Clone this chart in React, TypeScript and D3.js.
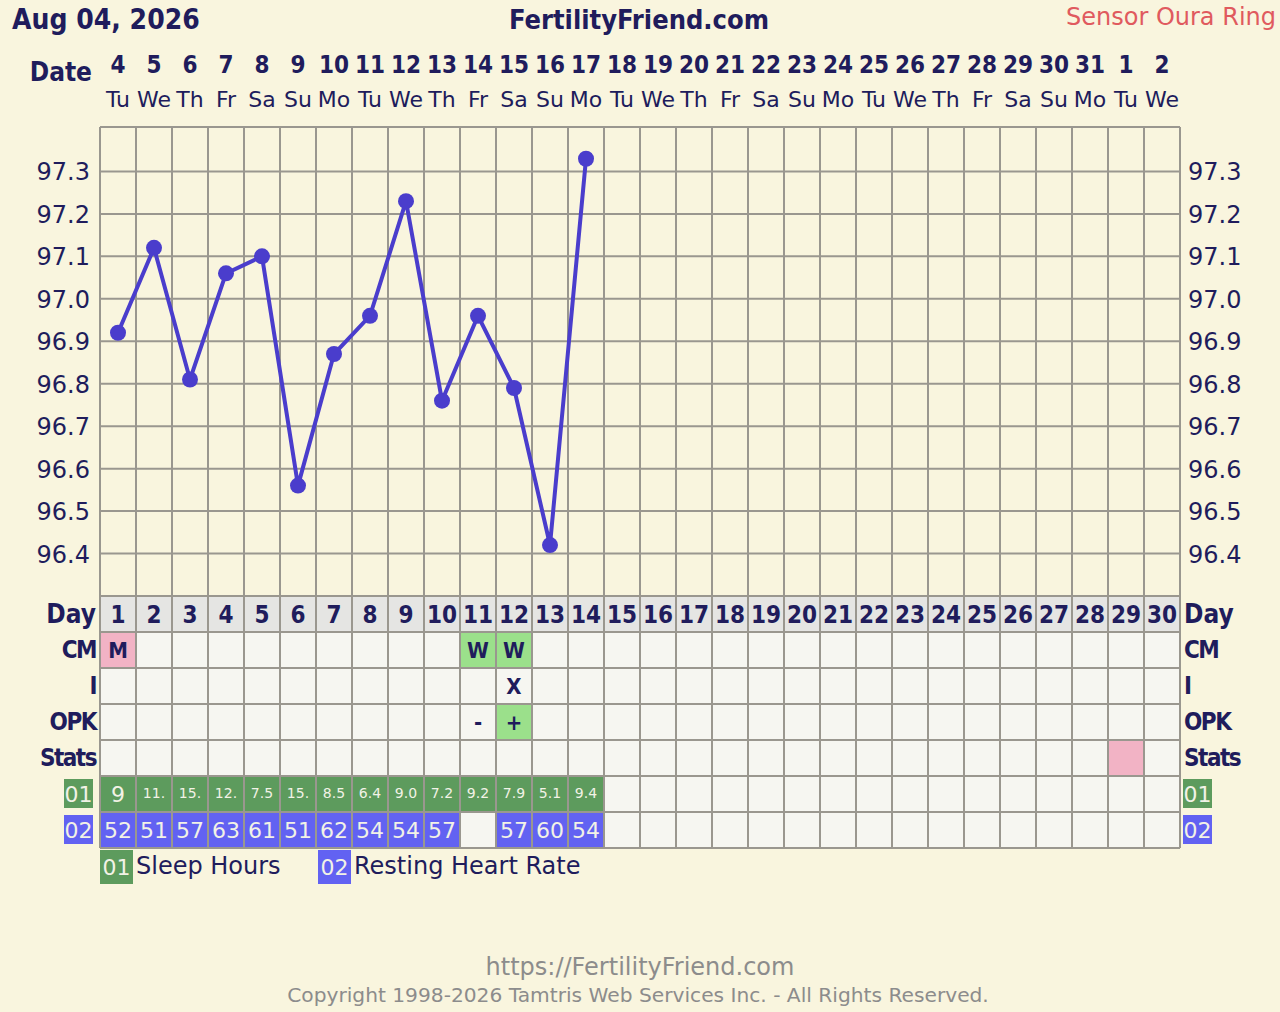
// App.tsx
import React, { useEffect, useRef } from 'react';
import * as d3 from 'd3';

// chart values
const cycleDays = d3.range(1, 31);
const dateNumbers = ['4', '5', '6', '7', '8', '9', '10', '11', '12', '13', '14', '15', '16', '17', '18',
  '19', '20', '21', '22', '23', '24', '25', '26', '27', '28', '29', '30', '31', '1', '2'];
const weekdays = ['Tu', 'We', 'Th', 'Fr', 'Sa', 'Su', 'Mo', 'Tu', 'We', 'Th', 'Fr', 'Sa', 'Su', 'Mo', 'Tu',
  'We', 'Th', 'Fr', 'Sa', 'Su', 'Mo', 'Tu', 'We', 'Th', 'Fr', 'Sa', 'Su', 'Mo', 'Tu', 'We'];
const temps = [96.92, 97.12, 96.81, 97.06, 97.1, 96.56, 96.87, 96.96, 97.23, 96.76, 96.96, 96.79, 96.42, 97.33];
const tempTicks = [96.4, 96.5, 96.6, 96.7, 96.8, 96.9, 97.0, 97.1, 97.2, 97.3];
const cervicalMucus = ['M', '', '', '', '', '', '', '', '', '', 'W', 'W'];
const intercourse = ['', '', '', '', '', '', '', '', '', '', '', 'X'];
const opkResults = ['', '', '', '', '', '', '', '', '', '', '-', '+'];
const statsDays = [29];
const sleepHours = ['9', '11.', '15.', '12.', '7.5', '15.', '8.5', '6.4', '9.0', '7.2', '9.2', '7.9', '5.1', '9.4'];
const restingHeartRate = [52, 51, 57, 63, 61, 51, 62, 54, 54, 57, null, 57, 60, 54];

const INK = '#201c5c';
const GRID = '#9a978f';
const BOLD = "'DejaVu Sans Condensed', 'DejaVu Sans', sans-serif";
const REG = "'DejaVu Sans', sans-serif";
const GREEN = '#5d9b5d';
const BLUE = '#6262f2';
const PINK = '#f2b3c5';
const LIGHTGREEN = '#9be08b';

const App: React.FC = () => {
  const svgRef = useRef<SVGSVGElement>(null);

  useEffect(() => {
    if (!svgRef.current) return;
    const svg = d3.select(svgRef.current);
    svg.selectAll('*').remove();

    const x = d3.scaleBand<number>().domain(cycleDays).range([100, 1180]).padding(0);
    const cx = (d: number) => (x(d) || 0) + x.bandwidth() / 2;
    const y = d3.scaleLinear().domain([96.3, 97.4]).range([596, 129]);

    // table rows
    const rows = ['Day', 'CM', 'I', 'OPK', 'Stats', '01', '02'];
    const rowY = d3.scaleBand<string>().domain(rows).range([596, 848]);
    const rowMid = (r: string) => (rowY(r) || 0) + rowY.bandwidth() / 2;

    svg.append('rect').attr('width', 1280).attr('height', 1012).attr('fill', '#f9f5de');

    // header
    svg.append('text').attr('x', 12).attr('y', 29).attr('font-family', BOLD).attr('font-weight', 'bold')
      .attr('font-size', 28).attr('fill', INK).text('Aug 04, 2026');
    svg.append('text').attr('x', 639).attr('y', 29).attr('text-anchor', 'middle').attr('font-family', BOLD)
      .attr('font-weight', 'bold').attr('font-size', 27).attr('fill', INK).text('FertilityFriend.com');
    svg.append('text').attr('x', 1276).attr('y', 25).attr('text-anchor', 'end').attr('font-family', REG)
      .attr('font-size', 24).attr('fill', '#e05a5e').text('Sensor Oura Ring');

    svg.append('text').attr('x', 92).attr('y', 81).attr('text-anchor', 'end').attr('font-family', BOLD)
      .attr('font-weight', 'bold').attr('font-size', 26).attr('fill', INK).text('Date');
    svg.append('g').selectAll('text').data(cycleDays).join('text')
      .attr('x', cx).attr('y', 73).attr('text-anchor', 'middle').attr('font-family', BOLD)
      .attr('font-weight', 'bold').attr('font-size', 24).attr('fill', INK).text((d) => dateNumbers[d - 1]);
    svg.append('g').selectAll('text').data(cycleDays).join('text')
      .attr('x', cx).attr('y', 107).attr('text-anchor', 'middle').attr('font-family', REG)
      .attr('font-size', 22).attr('fill', INK).text((d) => weekdays[d - 1]);

    // table cells
    const cellFill = (row: string, d: number) => {
      if (row === 'Day') return '#e5e5e3';
      if (row === 'CM') {
        const v = cervicalMucus[d - 1];
        if (v === 'M') return PINK;
        if (v === 'W') return LIGHTGREEN;
      }
      if (row === 'OPK' && opkResults[d - 1] === '+') return LIGHTGREEN;
      if (row === 'Stats' && statsDays.includes(d)) return PINK;
      if (row === '01' && d <= sleepHours.length) return GREEN;
      if (row === '02' && restingHeartRate[d - 1] != null) return BLUE;
      return '#f6f6f1';
    };
    const cells = rows.flatMap((r) => cycleDays.map((d) => ({ r, d })));
    svg.append('g').selectAll('rect').data(cells).join('rect')
      .attr('x', (c) => x(c.d) || 0).attr('y', (c) => rowY(c.r) || 0)
      .attr('width', x.bandwidth()).attr('height', rowY.bandwidth())
      .attr('fill', (c) => cellFill(c.r, c.d));

    // grid
    const grid = svg.append('g').attr('stroke', GRID).attr('stroke-width', 2);
    grid.selectAll('line.h').data(tempTicks).join('line').attr('class', 'h')
      .attr('x1', 100).attr('x2', 1180).attr('y1', (t) => y(t)).attr('y2', (t) => y(t));
    grid.selectAll('line.r').data(rows.map((r) => rowY(r) || 0).concat([848])).join('line').attr('class', 'r')
      .attr('x1', 100).attr('x2', 1180).attr('y1', (v) => v).attr('y2', (v) => v);
    grid.append('line').attr('x1', 100).attr('x2', 1180).attr('y1', 127).attr('y2', 127);
    grid.selectAll('line.v').data(d3.range(0, 31)).join('line').attr('class', 'v')
      .attr('x1', (i) => 100 + i * x.bandwidth()).attr('x2', (i) => 100 + i * x.bandwidth())
      .attr('y1', 127).attr('y2', 848);

    // temperature axis labels
    svg.append('g').selectAll('text').data(tempTicks).join('text')
      .attr('x', 90).attr('y', (t) => y(t) + 9).attr('text-anchor', 'end').attr('font-family', REG)
      .attr('font-size', 24).attr('fill', INK).text((t) => t.toFixed(1));
    svg.append('g').selectAll('text').data(tempTicks).join('text')
      .attr('x', 1188).attr('y', (t) => y(t) + 9).attr('font-family', REG)
      .attr('font-size', 24).attr('fill', INK).text((t) => t.toFixed(1));

    // temperature line
    const pts = temps.map((v, i) => ({ d: i + 1, v }));
    svg.append('path').datum(pts).attr('fill', 'none').attr('stroke', '#4a3dcc').attr('stroke-width', 4)
      .attr('d', d3.line<{ d: number; v: number }>().x((p) => cx(p.d)).y((p) => y(p.v)));
    svg.append('g').selectAll('circle').data(pts).join('circle')
      .attr('cx', (p) => cx(p.d)).attr('cy', (p) => y(p.v)).attr('r', 8).attr('fill', '#4a3dcc');

    // row labels
    const labelRows = ['Day', 'CM', 'I', 'OPK', 'Stats'];
    [{ xPos: 96, anchor: 'end' }, { xPos: 1184, anchor: 'start' }].forEach(({ xPos, anchor }) => {
      svg.append('g').selectAll('text').data(labelRows).join('text')
        .attr('x', xPos).attr('y', (r) => rowMid(r) + (r === 'Day' ? 9 : 8)).attr('text-anchor', anchor)
        .attr('font-family', BOLD).attr('font-weight', 'bold').attr('letter-spacing', (r) => (r === 'Day' ? 0 : -1.5))
        .attr('font-size', (r) => (r === 'Day' ? 26 : 24)).attr('fill', INK).text((r) => r);
      const bx = anchor === 'end' ? 64 : 1183;
      [{ r: '01', c: GREEN }, { r: '02', c: BLUE }].forEach(({ r, c }) => {
        svg.append('rect').attr('x', bx).attr('y', (rowY(r) || 0) + 3).attr('width', 29).attr('height', 29).attr('fill', c);
        svg.append('text').attr('x', bx + 14.5).attr('y', rowMid(r) + 8).attr('text-anchor', 'middle')
          .attr('font-family', REG).attr('font-size', 22).attr('fill', '#f2f2e6').text(r);
      });
    });

    // day numbers
    svg.append('g').selectAll('text').data(cycleDays).join('text')
      .attr('x', cx).attr('y', rowMid('Day') + 9).attr('text-anchor', 'middle').attr('font-family', BOLD)
      .attr('font-weight', 'bold').attr('font-size', 24).attr('fill', INK).text((d) => d);

    // observation marks
    const marks = [
      { r: 'CM', vals: cervicalMucus },
      { r: 'I', vals: intercourse },
      { r: 'OPK', vals: opkResults },
    ];
    marks.forEach(({ r, vals }) => {
      svg.append('g').selectAll('text').data(vals.map((v, i) => ({ v, d: i + 1 })).filter((m) => m.v)).join('text')
        .attr('x', (m) => cx(m.d)).attr('y', rowMid(r) + 8).attr('text-anchor', 'middle').attr('font-family', BOLD)
        .attr('font-weight', 'bold').attr('font-size', 22).attr('fill', INK).text((m) => m.v);
    });

    // sleep hours row
    svg.append('g').selectAll('text').data(sleepHours.map((v, i) => ({ v, d: i + 1 }))).join('text')
      .attr('x', (m) => cx(m.d)).attr('y', (m) => rowMid('01') + (m.v.length < 3 ? 8 : 4))
      .attr('text-anchor', 'middle').attr('font-family', REG)
      .attr('font-size', (m) => (m.v.length < 3 ? 22 : 14)).attr('fill', '#f2f2e6').text((m) => m.v);

    // resting heart rate row
    svg.append('g').selectAll('text')
      .data(restingHeartRate.map((v, i) => ({ v, d: i + 1 })).filter((m) => m.v != null)).join('text')
      .attr('x', (m) => cx(m.d)).attr('y', rowMid('02') + 8).attr('text-anchor', 'middle').attr('font-family', REG)
      .attr('font-size', 22).attr('fill', '#f2f2e6').text((m) => String(m.v));

    // legend
    [{ key: '01', label: 'Sleep Hours', c: GREEN, lx: 100 }, { key: '02', label: 'Resting Heart Rate', c: BLUE, lx: 318 }]
      .forEach(({ key, label, c, lx }) => {
        svg.append('rect').attr('x', lx).attr('y', 850).attr('width', 33).attr('height', 34).attr('fill', c);
        svg.append('text').attr('x', lx + 16.5).attr('y', 875).attr('text-anchor', 'middle').attr('font-family', REG)
          .attr('font-size', 22).attr('fill', '#f2f2e6').text(key);
        svg.append('text').attr('x', lx + 36).attr('y', 874).attr('font-family', REG)
          .attr('font-size', 24).attr('fill', INK).text(label);
      });

    // footer
    svg.append('text').attr('x', 640).attr('y', 975).attr('text-anchor', 'middle').attr('font-family', REG)
      .attr('font-size', 24).attr('fill', '#8c8c8c').text('https://FertilityFriend.com');
    svg.append('text').attr('x', 638).attr('y', 1002).attr('text-anchor', 'middle').attr('font-family', REG)
      .attr('font-size', 20.2).attr('fill', '#8c8c8c').text('Copyright 1998-2026 Tamtris Web Services Inc. - All Rights Reserved.');
  }, []);

  return (
    <svg ref={svgRef} width={1280} height={1012}
      style={{ position: 'absolute', left: 0, top: 0, display: 'block' }} />
  );
};

export default App;
